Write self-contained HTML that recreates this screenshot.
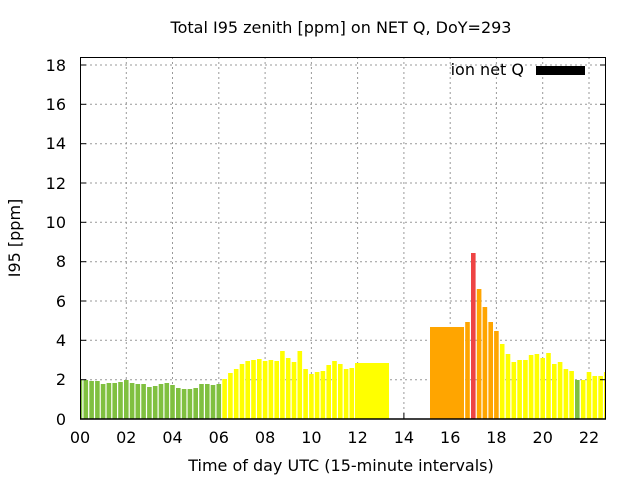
<!DOCTYPE html>
<html><head><meta charset="utf-8"><style>
html,body{margin:0;padding:0;background:#fff;}
svg{display:block;font-family:"DejaVu Sans","Liberation Sans",sans-serif;}
</style></head><body>
<svg width="640" height="480" viewBox="0 0 640 480" xmlns="http://www.w3.org/2000/svg">
<defs><clipPath id="pc"><rect x="80" y="57" width="526" height="362"/></clipPath></defs>
<rect width="640" height="480" fill="#fff"/>
<g stroke="#999" stroke-width="1" stroke-dasharray="2,3">
<line x1="126.3" y1="57" x2="126.3" y2="419"/><line x1="172.5" y1="57" x2="172.5" y2="419"/><line x1="218.8" y1="57" x2="218.8" y2="419"/><line x1="265.1" y1="57" x2="265.1" y2="419"/><line x1="311.4" y1="57" x2="311.4" y2="419"/><line x1="357.6" y1="57" x2="357.6" y2="419"/><line x1="403.9" y1="57" x2="403.9" y2="419"/><line x1="450.2" y1="57" x2="450.2" y2="419"/><line x1="496.4" y1="57" x2="496.4" y2="419"/><line x1="542.7" y1="57" x2="542.7" y2="419"/><line x1="589" y1="57" x2="589" y2="419"/>
<line x1="80" y1="379.7" x2="606" y2="379.7"/><line x1="80" y1="340.3" x2="606" y2="340.3"/><line x1="80" y1="301" x2="606" y2="301"/><line x1="80" y1="261.7" x2="606" y2="261.7"/><line x1="80" y1="222.3" x2="606" y2="222.3"/><line x1="80" y1="183" x2="606" y2="183"/><line x1="80" y1="143.7" x2="606" y2="143.7"/><line x1="80" y1="104.3" x2="606" y2="104.3"/><line x1="80" y1="65" x2="606" y2="65"/>
</g>
<g clip-path="url(#pc)">
<g fill="#80c040">
<rect x="77.7" y="380" width="4.6" height="39"/>
<rect x="83.5" y="380" width="4.6" height="39"/>
<rect x="89.3" y="381" width="4.6" height="38"/>
<rect x="95.1" y="381" width="4.6" height="38"/>
<rect x="100.8" y="384" width="4.6" height="35"/>
<rect x="106.6" y="383" width="4.6" height="36"/>
<rect x="112.4" y="383" width="4.6" height="36"/>
<rect x="118.2" y="382" width="4.6" height="37"/>
<rect x="124" y="380" width="4.6" height="39"/>
<rect x="129.8" y="383" width="4.6" height="36"/>
<rect x="135.5" y="384" width="4.6" height="35"/>
<rect x="141.3" y="384" width="4.6" height="35"/>
<rect x="147.1" y="387" width="4.6" height="32"/>
<rect x="152.9" y="386" width="4.6" height="33"/>
<rect x="158.7" y="384" width="4.6" height="35"/>
<rect x="164.5" y="383" width="4.6" height="36"/>
<rect x="170.2" y="385" width="4.6" height="34"/>
<rect x="176" y="388" width="4.6" height="31"/>
<rect x="181.8" y="389" width="4.6" height="30"/>
<rect x="187.6" y="389" width="4.6" height="30"/>
<rect x="193.4" y="388" width="4.6" height="31"/>
<rect x="199.2" y="384" width="4.6" height="35"/>
<rect x="205" y="384" width="4.6" height="35"/>
<rect x="210.7" y="385" width="4.6" height="34"/>
<rect x="216.5" y="384" width="4.6" height="35"/>
<rect x="575" y="380" width="4.6" height="39"/>
</g>
<g fill="#ffff00">
<rect x="222.3" y="379" width="4.6" height="40"/>
<rect x="228.1" y="373" width="4.6" height="46"/>
<rect x="233.9" y="369" width="4.6" height="50"/>
<rect x="239.7" y="364" width="4.6" height="55"/>
<rect x="245.4" y="361" width="4.6" height="58"/>
<rect x="251.2" y="360" width="4.6" height="59"/>
<rect x="257" y="359" width="4.6" height="60"/>
<rect x="262.8" y="361" width="4.6" height="58"/>
<rect x="268.6" y="360" width="4.6" height="59"/>
<rect x="274.4" y="361" width="4.6" height="58"/>
<rect x="280.1" y="351" width="4.6" height="68"/>
<rect x="285.9" y="358" width="4.6" height="61"/>
<rect x="291.7" y="362" width="4.6" height="57"/>
<rect x="297.5" y="351" width="4.6" height="68"/>
<rect x="303.3" y="369" width="4.6" height="50"/>
<rect x="309.1" y="374" width="4.6" height="45"/>
<rect x="314.8" y="372" width="4.6" height="47"/>
<rect x="320.6" y="371" width="4.6" height="48"/>
<rect x="326.4" y="365" width="4.6" height="54"/>
<rect x="332.2" y="361" width="4.6" height="58"/>
<rect x="338" y="364" width="4.6" height="55"/>
<rect x="343.8" y="369" width="4.6" height="50"/>
<rect x="349.5" y="368" width="4.6" height="51"/>
<rect x="355" y="363" width="34" height="56"/>
<rect x="499.9" y="344" width="4.6" height="75"/>
<rect x="505.7" y="354" width="4.6" height="65"/>
<rect x="511.5" y="362" width="4.6" height="57"/>
<rect x="517.3" y="360" width="4.6" height="59"/>
<rect x="523.1" y="360" width="4.6" height="59"/>
<rect x="528.8" y="355" width="4.6" height="64"/>
<rect x="534.6" y="354" width="4.6" height="65"/>
<rect x="540.4" y="358" width="4.6" height="61"/>
<rect x="546.2" y="353" width="4.6" height="66"/>
<rect x="552" y="364" width="4.6" height="55"/>
<rect x="557.8" y="362" width="4.6" height="57"/>
<rect x="563.6" y="369" width="4.6" height="50"/>
<rect x="569.3" y="371" width="4.6" height="48"/>
<rect x="580.9" y="380" width="4.6" height="39"/>
<rect x="586.7" y="372" width="4.6" height="47"/>
<rect x="592.5" y="376" width="4.6" height="43"/>
<rect x="598.3" y="376" width="4.6" height="43"/>
<rect x="604" y="372" width="4.6" height="47"/>
</g>
<g fill="#ffa500">
<rect x="430" y="327" width="34" height="92"/>
<rect x="465.2" y="322" width="4.6" height="97"/>
<rect x="476.8" y="289" width="4.6" height="130"/>
<rect x="482.6" y="307" width="4.6" height="112"/>
<rect x="488.4" y="322" width="4.6" height="97"/>
<rect x="494.1" y="331" width="4.6" height="88"/>
</g>
<rect x="471" y="253" width="4.6" height="166" fill="#ee4444"/>
</g>
<rect x="80.5" y="57.5" width="525" height="361.5" fill="none" stroke="#000" stroke-width="1"/>
<line x1="80" y1="419" x2="606" y2="419" stroke="#000" stroke-width="1.5"/>
<g stroke="#000" stroke-width="1">
<line x1="80" y1="379.7" x2="86" y2="379.7"/><line x1="80" y1="340.3" x2="86" y2="340.3"/><line x1="80" y1="301" x2="86" y2="301"/><line x1="80" y1="261.7" x2="86" y2="261.7"/><line x1="80" y1="222.3" x2="86" y2="222.3"/><line x1="80" y1="183" x2="86" y2="183"/><line x1="80" y1="143.7" x2="86" y2="143.7"/><line x1="80" y1="104.3" x2="86" y2="104.3"/><line x1="80" y1="65" x2="86" y2="65"/>
<line x1="600" y1="379.7" x2="606" y2="379.7"/><line x1="600" y1="340.3" x2="606" y2="340.3"/><line x1="600" y1="301" x2="606" y2="301"/><line x1="600" y1="261.7" x2="606" y2="261.7"/><line x1="600" y1="222.3" x2="606" y2="222.3"/><line x1="600" y1="183" x2="606" y2="183"/><line x1="600" y1="143.7" x2="606" y2="143.7"/><line x1="600" y1="104.3" x2="606" y2="104.3"/><line x1="600" y1="65" x2="606" y2="65"/>
<line x1="403.9" y1="413" x2="403.9" y2="419"/>
</g>
<g font-size="16" fill="#000" text-anchor="end">
<text x="66" y="425">0</text><text x="66" y="385">2</text><text x="66" y="346">4</text><text x="66" y="307">6</text><text x="66" y="267">8</text><text x="66" y="228">10</text><text x="66" y="189">12</text><text x="66" y="149">14</text><text x="66" y="110">16</text><text x="66" y="71">18</text>
</g>
<g font-size="16" fill="#000" text-anchor="middle">
<text x="80" y="443">00</text><text x="126.3" y="443">02</text><text x="172.5" y="443">04</text><text x="218.8" y="443">06</text><text x="265.1" y="443">08</text><text x="311.4" y="443">10</text><text x="357.6" y="443">12</text><text x="403.9" y="443">14</text><text x="450.2" y="443">16</text><text x="496.4" y="443">18</text><text x="542.7" y="443">20</text><text x="589" y="443">22</text>
<text x="341" y="471">Time of day UTC (15-minute intervals)</text>
<text x="341" y="33">Total I95 zenith [ppm] on NET Q, DoY=293</text>
<text transform="translate(20,238) rotate(-90)">I95 [ppm]</text>
</g>
<text x="524" y="75" font-size="16" text-anchor="end">ion net Q</text>
<rect x="536" y="66" width="49" height="9" fill="#000"/>
</svg>
</body></html>
